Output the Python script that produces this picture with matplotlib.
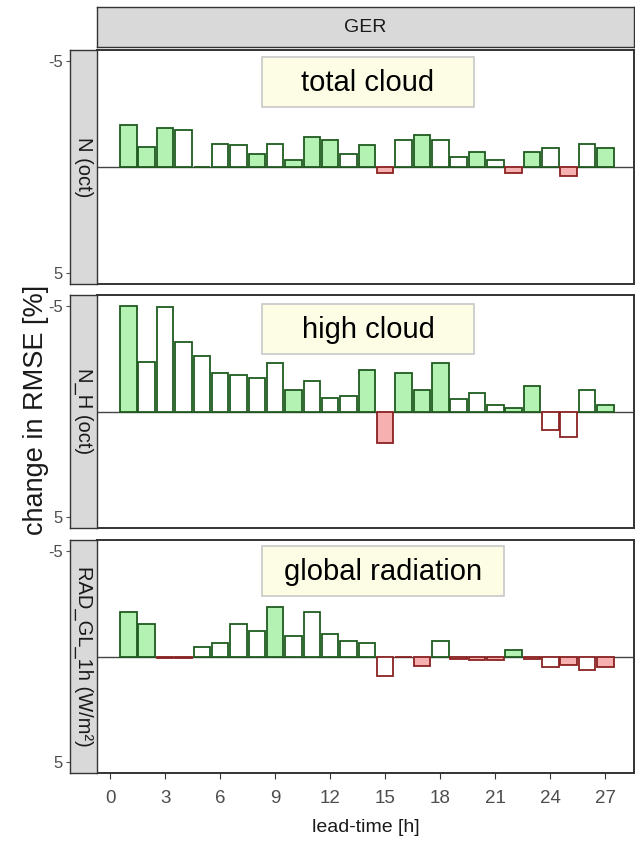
import numpy as np
import matplotlib
matplotlib.use("Agg")
import matplotlib.pyplot as plt
from matplotlib.patches import Rectangle

# ── data ─────────────────────────────────────────────────────────────────
lead_times = list(range(1, 28))
x_ticks = [0, 3, 6, 9, 12, 15, 18, 21, 24, 27]
y_ticks = [-5, 5]

panel_labels = ["N (oct)", "N_H (oct)", "RAD_GL_1h (W/m\u00b2)"]
panel_titles = ["total cloud", "high cloud", "global radiation"]

rmse_total = [-1.97, -0.94, -1.81, -1.75, 0.0, -1.10, -1.04, -0.60, -1.10, -0.35,
              -1.42, -1.26, -0.63, -1.04, 0.27, -1.26, -1.50, -1.26, -0.47, -0.71,
              -0.33, 0.27, -0.71, -0.87, 0.43, -1.10, -0.87]
signif_total = [1, 1, 1, 0, 0, 0, 0, 1, 0, 1, 1, 1, 0, 1, 1, 0, 1, 0, 0, 1,
                0, 1, 1, 0, 1, 0, 1]

rmse_high = [-5.0, -2.36, -4.93, -3.30, -2.60, -1.82, -1.74, -1.60, -2.29, -1.00,
             -1.42, -0.63, -0.74, -1.94, 1.49, -1.80, -1.00, -2.27, -0.61, -0.86,
             -0.31, -0.16, -1.21, 0.86, 1.19, -1.02, -0.31]
signif_high = [1, 0, 0, 0, 0, 0, 0, 0, 0, 1, 0, 0, 0, 1, 1, 1, 1, 1, 0, 0,
               0, 1, 1, 0, 0, 0, 1]

rmse_rad = [-2.10, -1.54, 0.05, 0.05, -0.43, -0.66, -1.54, -1.22, -2.34, -0.98,
            -2.10, -1.06, -0.74, -0.66, 0.91, 0.03, 0.43, -0.75, 0.11, 0.18,
            0.18, -0.32, 0.11, 0.50, 0.41, 0.66, 0.50]
signif_rad = [1, 1, 1, 1, 0, 0, 0, 0, 1, 0, 0, 0, 0, 0, 0, 1, 1, 0, 1, 1,
              1, 1, 1, 0, 1, 0, 1]

panels = [(rmse_total, signif_total), (rmse_high, signif_high), (rmse_rad, signif_rad)]

# ── style ────────────────────────────────────────────────────────────────
GREEN_FILL, GREEN_EDGE = "#b4f2b4", "#1f5a1f"
RED_FILL, RED_EDGE = "#f6b0b0", "#8b2222"
STRIP = "#d9d9d9"
FRAME = "#333333"
plt.rcParams["font.family"] = ["Liberation Sans", "DejaVu Sans"]

W, H = 635, 843
fig = plt.figure(figsize=(W / 100, H / 100), dpi=100)


def fx(px):
    return px / W


def fy(py):
    return 1 - py / H


panel_left, panel_right = 97, 634
strip_left = 70
panel_rows = [(50, 284), (295, 528), (540, 773)]
# title boxes in pixels: x0, x1, y0, y1
boxes = [(262, 474, 57, 107), (262, 474, 304, 354), (262, 504, 546, 596)]

# top strip "GER"
ax_top = fig.add_axes([fx(panel_left), fy(47), fx(panel_right - panel_left), (47 - 7) / H])
ax_top.set_facecolor(STRIP)
ax_top.set_xticks([]); ax_top.set_yticks([])
for s in ax_top.spines.values():
    s.set_color(FRAME); s.set_linewidth(1.0)
ax_top.text(0.5, 0.5, "GER", ha="center", va="center", fontsize=14,
            color="#1a1a1a", transform=ax_top.transAxes)

for i, ((vals, sig), (top, bot)) in enumerate(zip(panels, panel_rows)):
    h = (bot - top) / H
    ax = fig.add_axes([fx(panel_left), fy(bot), fx(panel_right - panel_left), h])
    for lt, v, s in zip(lead_times, vals, sig):
        neg = v <= 0
        edge = GREEN_EDGE if neg else RED_EDGE
        face = (GREEN_FILL if neg else RED_FILL) if s else "white"
        ax.bar(lt, v, width=0.9, color=face, edgecolor=edge, linewidth=1.3, zorder=2)
    ax.axhline(0, color="#444444", lw=1.0, zorder=1)
    ax.set_xlim(-0.71, 28.56)
    ax.set_ylim(5.5, -5.5)
    ax.set_yticks([])
    for s in ax.spines.values():
        s.set_color(FRAME); s.set_linewidth(1.4)
    if i < 2:
        ax.set_xticks([])
    else:
        ax.set_xticks(x_ticks)
        ax.set_xticklabels([str(t) for t in x_ticks], fontsize=13.5, color="#4d4d4d")
        ax.tick_params(axis="x", length=4, color="#333333", width=0.8, pad=8)
        ax.set_xlabel("lead-time [h]", fontsize=14, color="#1a1a1a", labelpad=9)

    # title box
    bx0, bx1, by0, by1 = boxes[i]
    ax.add_patch(Rectangle((fx(bx0), fy(by1)), fx(bx1 - bx0), (by1 - by0) / H,
                           transform=fig.transFigure, facecolor="#fdfde6",
                           edgecolor="#c8c8c8", linewidth=1.2, zorder=4, clip_on=False))
    ax.text(fx((bx0 + bx1) / 2), fy((by0 + by1) / 2 + 1), panel_titles[i],
            transform=fig.transFigure, ha="center", va="center", fontsize=21,
            color="black", zorder=5)

    # left strip with the variable name, ticks on its outer side
    sx = fig.add_axes([fx(strip_left), fy(bot), fx(panel_left - strip_left), h])
    sx.set_facecolor(STRIP)
    sx.set_xticks([])
    sx.set_ylim(5.5, -5.5)
    sx.set_yticks(y_ticks)
    sx.set_yticklabels([str(t) for t in y_ticks], fontsize=12, color="#4d4d4d")
    sx.tick_params(axis="y", length=3, color="#555555", width=0.8, pad=2)
    for s in sx.spines.values():
        s.set_color(FRAME); s.set_linewidth(1.0)
    sx.text(0.5, 0.5, panel_labels[i], rotation=-90, ha="center", va="center",
            fontsize=14.5, color="#1a1a1a", transform=sx.transAxes)

fig.text(fx(36), fy(410), "change in RMSE [%]", rotation=90, ha="center",
         va="center", fontsize=19.5, color="#1a1a1a")

plt.savefig("out.png", dpi=100)
plt.close()
